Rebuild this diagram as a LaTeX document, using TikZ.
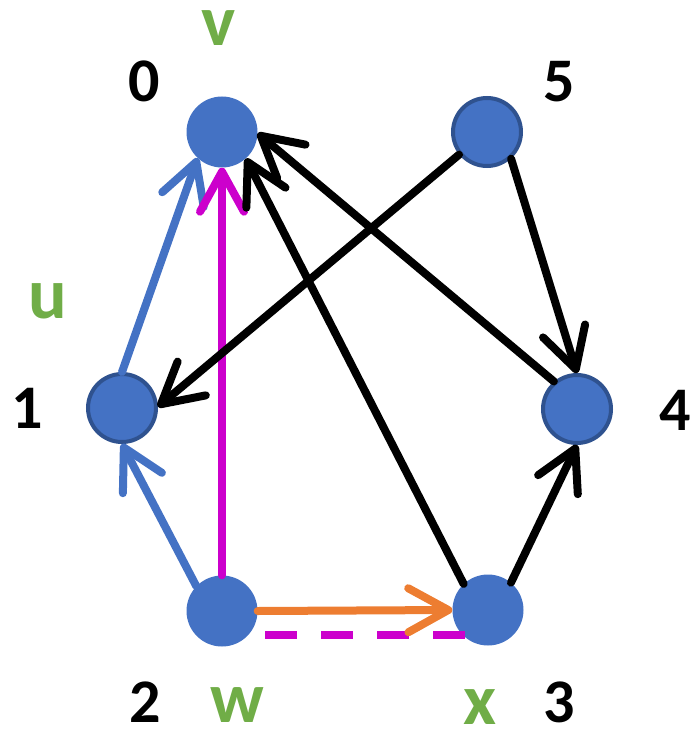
\documentclass[tikz,border=0pt]{standalone}
\usepackage{fontspec}
\setmainfont{Carlito}
\usetikzlibrary{arrows.meta}
\definecolor{nodeblue}{HTML}{4472C4}
\definecolor{nodeedge}{HTML}{2F528F}
\definecolor{mag}{HTML}{CC00CC}
\definecolor{orng}{HTML}{ED7D31}
\definecolor{grn}{HTML}{70AD47}
\begin{document}
\begin{tikzpicture}[x=1pt,y=-1pt,
  vtx/.style={circle,fill=nodeblue,minimum size=71pt,inner sep=0pt},
  vtxo/.style={circle,fill=nodeblue,draw=nodeedge,line width=4pt,minimum size=68pt,inner sep=0pt},
  num/.style={anchor=base,inner sep=0pt,font=\fontsize{62}{70}\selectfont\bfseries},
  let/.style={anchor=base,inner sep=0pt,text=grn,font=\fontsize{72}{80}\selectfont\bfseries},
  edge/.style={line width=8pt,line cap=round,-{Straight Barb[round,length=40pt,width=44pt]}},
  dashline/.style={line width=8pt,draw=mag,dash pattern=on 32pt off 24pt}
]
\useasboundingbox (0,0) rectangle (691,730);
\node[vtx]  (n0) at (222,132) {};
\node[vtxo] (n5) at (487,132) {};
\node[vtxo] (n1) at (122,408) {};
\node[vtxo] (n4) at (577,409) {};
\node[vtx]  (n2) at (222,611) {};
\node[vtx]  (n3) at (488,610) {};
\node[num] (l0) at (144,102) {0};
\node[num] (l5) at (559,102) {5};
\node[num] (l1) at (27,428) {1};
\node[num] (l4) at (675,430) {4};
\node[num] (l2) at (145,722) {2};
\node[num] (l3) at (559,722) {3};
\node[let] (lv) at (219,46) {v};
\node[let] (lu) at (48,318) {u};
\node[let] (lw) at (237,722) {w};
\node[let] (lx) at (480,724) {x};
\coordinate (d1) at (265,635);
\coordinate (d2) at (465,635);
\draw[dashline] (d1) -- (d2);
\draw[edge,draw=nodeblue] (n1.north) -- (n0.227);
\draw[edge,draw=nodeblue] (n2.136) -- (n1.south);
\draw[edge,draw=mag] (n2.north) -- (n0.south);
\draw[edge,draw=orng] (n2.east) -- (n3.west);
\draw[edge,draw=black] (n3.133) -- (n0.312);
\draw[edge,draw=black] (n3.50) -- (n4.south);
\draw[edge,draw=black] (n4.130) -- (n0.-2);
\draw[edge,draw=black] (n5.219) -- (n1.2);
\draw[edge,draw=black] (n5.312) -- (n4.north);
\end{tikzpicture}
\end{document}
